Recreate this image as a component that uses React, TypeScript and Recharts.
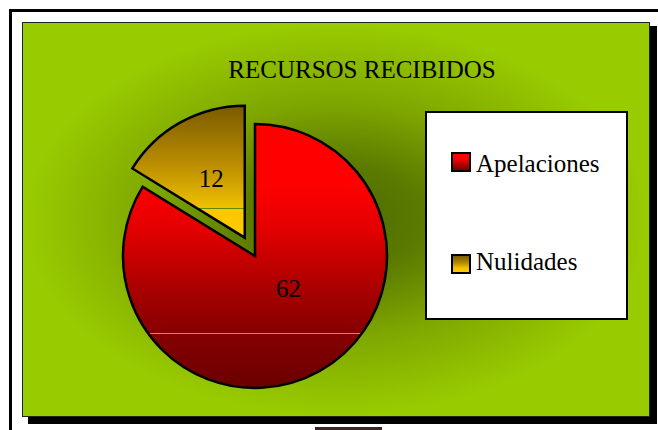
import { Cell, Legend, Pie, PieChart } from "recharts"

const title = "RECURSOS RECIBIDOS"
const categories = ["Apelaciones", "Nulidades"]
const values = [62, 12]

const RADIAN = Math.PI / 180
const CX = 255
const CY = 256
const RADIUS = 132
const EXPLODE = 21
const EXPLODED_INDEX = 1
const START_ANGLE = 90

const data = categories.map((name, i) => ({ name, value: values[i] }))

// where the pulled-out slice sits: move its centre along its own bisector
const total = values.reduce((s, v) => s + v, 0)
const before = values.slice(0, EXPLODED_INDEX).reduce((s, v) => s + v, 0)
const explodedMid = START_ANGLE - (360 * (before + values[EXPLODED_INDEX] / 2)) / total
const EX = CX + EXPLODE * Math.cos(explodedMid * RADIAN)
const EY = CY - EXPLODE * Math.sin(explodedMid * RADIAN)

const fills = ["url(#gradRed)", "url(#gradGold)"]
const swatches = [
  "linear-gradient(#ff0000, #ff0000 30%, #a00000 75%, #7a0000)",
  "linear-gradient(#7a5c00, #b08600 40%, #f2c200 75%, #ffcc00)",
]
// small hand tweak for where the big slice's number sits
const labelNudge = [-28, 0]

const serif = "'Liberation Serif', 'Times New Roman', serif"

function makeLabel(only: number) {
  return (props: any) => {
    const { cx, cy, midAngle, outerRadius, index, value } = props
    if (index !== only) return null
    const r = outerRadius * 0.52
    const x = cx + r * Math.cos(-midAngle * RADIAN)
    const y = cy + r * Math.sin(-midAngle * RADIAN) + labelNudge[index]
    return (
      <text x={x} y={y + 9} textAnchor="middle" fontFamily={serif} fontSize={25} fill="#000">
        {value}
      </text>
    )
  }
}

// the two pies share data, so the legend is drawn from the category list
function LegendBox() {
  return (
    <div
      style={{
        width: "100%",
        height: "100%",
        boxSizing: "border-box",
        background: "#fff",
        border: "2px solid #000",
        position: "relative",
        fontFamily: serif,
        fontSize: 25,
        lineHeight: "25px",
        color: "#000",
      }}
    >
      {categories.map((name, i) => (
        <div key={name}>
          <div
            style={{
              position: "absolute",
              left: 24,
              top: 39 + i * 102,
              width: 20,
              height: 20,
              boxSizing: "border-box",
              border: "2px solid #000",
              background: swatches[i],
            }}
          />
          <div style={{ position: "absolute", left: 49, top: 38 + i * 98, whiteSpace: "nowrap" }}>{name}</div>
        </div>
      ))}
    </div>
  )
}

export default function App() {
  return (
    <div
      style={{
        position: "absolute",
        left: 0,
        top: 0,
        width: 658,
        height: 430,
        overflow: "hidden",
        background: "#fff",
      }}
    >
      {/* outer frame, cut off by the picture on the right and bottom */}
      <div
        style={{
          position: "absolute",
          left: 9,
          top: 9,
          width: 760,
          height: 480,
          border: "3px solid #000",
          boxSizing: "border-box",
        }}
      />
      <div style={{ position: "absolute", left: 28, top: 26, width: 629, height: 398, background: "#000" }} />
      <div
        style={{
          position: "absolute",
          left: 22,
          top: 22,
          width: 628,
          height: 395,
          boxSizing: "border-box",
          border: "1.5px solid #222",
          background:
            "radial-gradient(ellipse closest-side at 50% 50%, #4c6a00 0%, #5b7a00 28%, #7fa700 60%, #99cc00 100%)",
        }}
      />
      <div style={{ position: "absolute", left: 315, top: 427, width: 67, height: 6, background: "#3b2424" }} />

      <PieChart width={658} height={430} margin={{ top: 0, right: 0, bottom: 0, left: 0 }} style={{ position: "absolute", left: 0, top: 0 }}>
        <defs>
          <linearGradient id="gradRed" x1="0" y1="0" x2="0" y2="1">
            <stop offset="0" stopColor="#ff0000" />
            <stop offset="0.22" stopColor="#ff0000" />
            <stop offset="0.4" stopColor="#e20000" />
            <stop offset="0.65" stopColor="#a30000" />
            <stop offset="0.79" stopColor="#880000" />
            <stop offset="0.79" stopColor="#8cbc00" />
            <stop offset="0.795" stopColor="#8cbc00" />
            <stop offset="0.795" stopColor="#860000" />
            <stop offset="1" stopColor="#6a0000" />
          </linearGradient>
          <linearGradient id="gradGold" x1="0" y1="0" x2="0" y2="1">
            <stop offset="0" stopColor="#7a5a00" />
            <stop offset="0.45" stopColor="#bb8e00" />
            <stop offset="0.772" stopColor="#f0c000" />
            <stop offset="0.772" stopColor="#5f8a00" />
            <stop offset="0.78" stopColor="#5f8a00" />
            <stop offset="0.78" stopColor="#fbc800" />
            <stop offset="1" stopColor="#ffcc00" />
          </linearGradient>
        </defs>
        <text x={362} y={78} textAnchor="middle" fontFamily={serif} fontSize={25} fill="#000">
          {title}
        </text>
        <Pie
          data={data}
          dataKey="value"
          nameKey="name"
          cx={CX}
          cy={CY}
          outerRadius={RADIUS}
          startAngle={START_ANGLE}
          endAngle={START_ANGLE - 360}
          label={makeLabel(0)}
          labelLine={false}
          isAnimationActive={false}
        >
          {data.map((d, i) => (
            <Cell
              key={d.name}
              fill={i === EXPLODED_INDEX ? "none" : fills[i]}
              stroke={i === EXPLODED_INDEX ? "none" : "#000"}
              strokeWidth={2.5}
            />
          ))}
        </Pie>
        <Pie
          data={data}
          dataKey="value"
          nameKey="name"
          cx={EX}
          cy={EY}
          outerRadius={RADIUS}
          startAngle={START_ANGLE}
          endAngle={START_ANGLE - 360}
          label={makeLabel(EXPLODED_INDEX)}
          labelLine={false}
          legendType="none"
          isAnimationActive={false}
        >
          {data.map((d, i) => (
            <Cell
              key={d.name}
              fill={i === EXPLODED_INDEX ? fills[i] : "none"}
              stroke={i === EXPLODED_INDEX ? "#000" : "none"}
              strokeWidth={2.5}
            />
          ))}
        </Pie>
        <Legend
          layout="vertical"
          align="right"
          verticalAlign="middle"
          content={<LegendBox />}
          wrapperStyle={{ position: "absolute", left: 425, top: 111, width: 203, height: 209, right: "auto", bottom: "auto" }}
        />
      </PieChart>
    </div>
  )
}
